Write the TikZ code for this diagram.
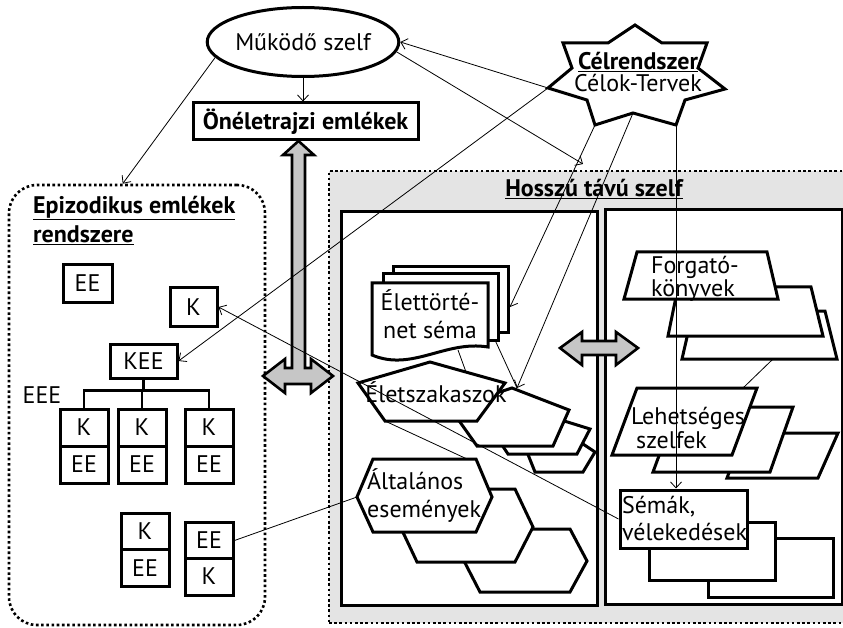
\documentclass[tikz,border=0pt]{standalone}
\usepackage{fontspec}
\setmainfont{PT Sans}
\usetikzlibrary{arrows.meta,positioning,calc,shapes.geometric}
\definecolor{SelfGray}{HTML}{E4E4E4}
\definecolor{ArrowGray}{HTML}{C6C6C6}

\begin{document}
\begin{tikzpicture}[x=1pt, y=-1pt,
  font=\fontsize{24}{28}\selectfont,
  bx/.style={draw, line width=3pt, fill=white, inner sep=0pt, minimum width=48pt, minimum height=37pt},
  sheet/.style={draw, line width=3pt, fill=white, line join=miter},
  dots/.style={line width=2.6pt, dash pattern=on 2.6pt off 2.6pt},
  conn/.style={line width=0.8pt},
  arr/.style={conn, -{Straight Barb[length=6pt, width=11pt]}},
  big/.style={draw, line width=2.6pt, fill=ArrowGray, line join=miter},
  ttl/.style={font=\fontsize{24}{29}\selectfont\bfseries}]
  \useasboundingbox (0,0) rectangle (843,628);

  % episodic memory system
  \node[draw, dots, rounded corners=28pt, minimum width=256pt, minimum height=440pt] (epi) at (137,405) {};
  \node[ttl, align=left, anchor=north west, inner sep=0pt] (epiT) at (33,196) {\underline{Epizodikus emlékek}\\\underline{rendszere}};
  \node[bx, minimum width=49pt] (ee0) at (87.5,283.5) {EE};
  \node[bx, minimum width=47pt, minimum height=38pt] (k0) at (193.5,307) {K};
  \node[bx, minimum width=67pt, minimum height=34pt] (kee) at (143.5,361) {KEE};
  \node (eee) at (42,395) {EEE};
  \foreach \x/\n in {84/a,142/b,209/c} {
    \node[bx] (k\n) at (\x,427.5) {K};
    \node[bx] (ee\n) at (\x,464.5) {EE};
  }
  \draw[line width=2.8pt] (kee.south) -- ++(0,11) coordinate (fork);
  \draw[line width=2.8pt] (ka.north) |- (fork) -| (kc.north);
  \draw[line width=2.8pt] (kb.north) -- (kb.north |- fork);
  \node[bx] (kd) at (145,531.5) {K};
  \node[bx] (eed) at (145,568) {EE};
  \node[bx] (eef) at (209,540.5) {EE};
  \node[bx] (kf) at (209,576.5) {K};

  % long-term self
  \node[draw, dots, fill=SelfGray, minimum width=522pt, minimum height=452pt] (hosszu) at (590,397) {};
  \node[ttl, inner sep=0pt] (hosszuT) at (594,189) {\underline{Hosszú távú szelf}};
  \node[draw, line width=3pt, fill=white, minimum width=256pt, minimum height=393pt] (bal) at (469,408.5) {};
  \node[draw, line width=3pt, fill=white, minimum width=237pt, minimum height=394pt] (jobb) at (723.5,407) {};
  \draw[big] (560,348) -- (582,332) -- (582,341) -- (616,341) -- (616,332) -- (638,348)
    -- (616,365) -- (616,355) -- (582,355) -- (582,365) -- cycle;

  % life story schema
  \draw[sheet] (393,267) rectangle (508,332);
  \draw[sheet] (383,274) rectangle (498,340);
  \draw[sheet] (372,283) -- (488,283) -- (488,347)
    .. controls (445,340) and (412,372) .. (372,355) -- cycle;
  \node[align=center, font=\fontsize{24}{28}\selectfont] (sema) at (430,314) {Élettörté-\\net séma};

  % lifetime periods
  \draw[sheet] (527,452) -- (565,432) -- (595,452) -- (583,472) -- (535,472) -- cycle;
  \draw[sheet] (492,430) -- (545,415) -- (590,429) -- (577,454) -- (508,454) -- cycle;
  \draw[sheet] (450,408) -- (512,388) -- (569,410) -- (553,446) -- (477,446) -- cycle;
  \draw[sheet] (358,383) -- (430,362) -- (505,383) -- (477,421) -- (385,421) -- cycle;
  \node (szak) at (436,392) {Életszakaszok};

  % general events
  \draw[sheet] (464,561) -- (480,529) -- (570,529) -- (587,561) -- (570,592) -- (480,592) -- cycle;
  \draw[sheet] (400,526) -- (417,489) -- (515,489) -- (533,527) -- (515,562) -- (417,562) -- cycle;
  \draw[sheet] (357,497) -- (373,459) -- (476,459) -- (492,497) -- (476,532) -- (373,532) -- cycle;
  \node[align=left, anchor=west, inner sep=0pt, font=\fontsize{24}{28}\selectfont] (altal) at (367,496) {Általános\\események};

  % scripts
  \draw[sheet] (693,311) -- (825,311) -- (837,359) -- (682,359) -- cycle;
  \draw[sheet] (678,287) -- (811,287) -- (823,336) -- (668,336) -- cycle;
  \draw[sheet] (637,252) -- (767,252) -- (778,299) -- (624,299) -- cycle;
  \node[align=left, anchor=west, inner sep=0pt, font=\fontsize{24}{23}\selectfont] (forg) at (651,279) {Forgató-\\könyvek};

  % possible selves
  \draw[sheet] (744,433) -- (838,433) -- (818,478) -- (727,478) -- cycle;
  \draw[sheet] (677,407) -- (793,407) -- (770,472) -- (653,472) -- cycle;
  \draw[sheet] (637,388) -- (757,388) -- (732,455) -- (612,455) -- cycle;
  \node[align=left, anchor=west, inner sep=0pt, font=\fontsize{24}{24}\selectfont] (lehet) at (631,428) {Lehetséges\\\hspace*{5pt}szelfek};

  % schemas, beliefs
  \draw[sheet] (708,538) rectangle (833,597);
  \draw[sheet] (649,522) rectangle (775,580);
  \node[bx, minimum width=127pt, minimum height=58pt, align=left, text width=123pt, font=\fontsize{24}{27}\selectfont] (semak) at (683.5,519) {Sémák,\\vélekedések};

  % autobiographical memory and big arrow
  \node[bx, ttl, minimum width=225pt, minimum height=37pt] (onelet) at (305.5,121.5) {Önéletrajzi emlékek};
  \draw[big] (298.5,141) -- (314,155) -- (305,155) -- (305,368) -- (311,368) -- (311,359) -- (333,376)
    -- (311,393) -- (311,384) -- (285,384) -- (285,393) -- (263,376) -- (285,359) -- (285,368)
    -- (292,368) -- (292,155) -- (283,155) -- cycle;

  % working self and goal system
  \node[draw, ellipse, line width=3pt, fill=white, minimum width=147pt, minimum height=69pt, inner sep=0pt] (mukodo) at (303,42) {Működő szelf};
  \draw[line width=3pt, fill=white, line join=miter]
    (635,25) -- (662,43) -- (707,43) -- (698,68) -- (725,89) -- (685,100) -- (676,125)
    -- (633,113) -- (595,125) -- (587,100) -- (548,88) -- (572,68) -- (563,43) -- (608,43) -- cycle;
  \node[align=center, inner sep=0pt, font=\fontsize{24}{22}\selectfont] (cel) at (638,72) {\textbf{\underline{Célrendszer}}\\Célok-Tervek};
  \coordinate (cLeft) at (548,88);
  \coordinate (cBL) at (595,125);
  \coordinate (cBI) at (633,113);
  \coordinate (cBR) at (676,125);

  % connector ends
  \coordinate (hosszuIn) at (583,164);
  \coordinate (semaBack) at (510,307);
  \coordinate (semaFront) at (458,350);
  \coordinate (semaMid) at (495,340);
  \coordinate (szak1Edge) at (466,372);
  \coordinate (szak1BL) at (385,421);
  \coordinate (szak2Top) at (517,388);
  \coordinate (altalTop) at (467,459);
  \coordinate (altalLeft) at (357,497);
  \coordinate (forg3Bot) at (773,359);
  \coordinate (lehetTop) at (743,388);

  % connectors
  \draw[arr] (mukodo.190) -- ([xshift=115pt]epi.north west);
  \draw[arr] (mukodo.south) -- (mukodo.south |- onelet.north);
  \draw[arr] (cLeft) -- (mukodo.east);
  \draw[arr] (mukodo.-6) -- (hosszuIn);
  \draw[arr] (cLeft) -- (kee.east);
  \draw[arr] (cBL) -- (semaBack);
  \draw[arr] (cBI) -- (szak2Top);
  \draw[arr] (cBR) -- (cBR |- semak.north);
  \draw[arr] (semak.west) -- (k0.east);
  \draw[conn] (eef.east) -- (altalLeft);
  \draw[conn] (semaFront) -- (szak1Edge);
  \draw[conn] (semaMid) -- (szak2Top);
  \draw[conn] (szak1BL) -- (altalTop);
  \draw[conn] (forg3Bot) -- (lehetTop);
\end{tikzpicture}
\end{document}
